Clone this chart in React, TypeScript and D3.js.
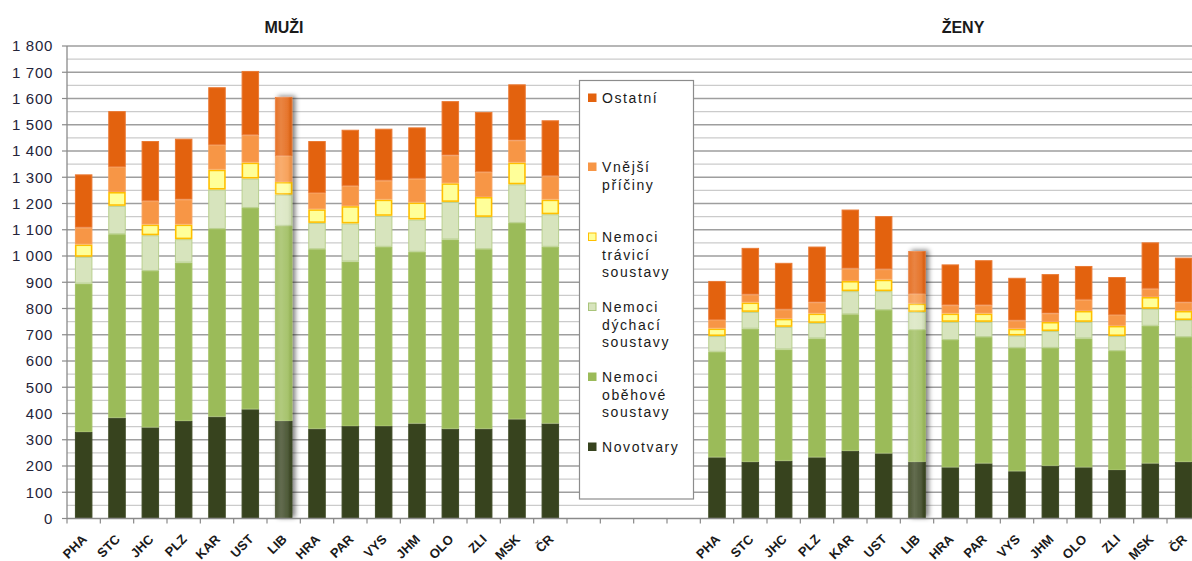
import React from 'react';
import * as d3 from 'd3';

// Regions (kraje) and the Czech Republic total
const regions = ['PHA', 'STC', 'JHC', 'PLZ', 'KAR', 'UST', 'LIB', 'HRA', 'PAR', 'VYS', 'JHM', 'OLO', 'ZLI', 'MSK', 'ČR'];

// Cause-of-death groups, bottom to top of each stack
const seriesKeys = ['novotvary', 'obehove', 'dychaci', 'travici', 'vnejsi', 'ostatni'];

// Men – standardized death rates per cause group
const menNovotvary = [330, 384, 347, 372, 388, 416, 372, 342, 352, 352, 362, 342, 342, 378, 362];
const menObehove = [565, 699, 596, 603, 715, 767, 743, 684, 627, 683, 654, 721, 684, 748, 673];
const menDychaci = [102, 108, 136, 89, 150, 112, 119, 100, 145, 118, 123, 143, 123, 147, 124];
const menTravici = [47, 53, 41, 56, 76, 61, 48, 52, 66, 62, 65, 71, 76, 83, 56];
const menVnejsi = [64, 95, 89, 95, 94, 104, 99, 62, 77, 72, 90, 106, 94, 84, 89];
const menOstatni = [203, 213, 229, 232, 220, 245, 225, 198, 214, 198, 196, 207, 230, 214, 213];

// Women
const womenNovotvary = [233, 216, 220, 233, 258, 248, 216, 195, 210, 180, 201, 195, 185, 210, 216];
const womenObehove = [402, 507, 424, 453, 520, 546, 502, 485, 481, 470, 449, 491, 453, 524, 475];
const womenDychaci = [60, 64, 86, 59, 88, 72, 69, 69, 58, 47, 64, 63, 57, 65, 65];
const womenTravici = [29, 36, 31, 36, 39, 44, 32, 32, 32, 26, 35, 42, 39, 45, 35];
const womenVnejsi = [32, 30, 35, 42, 47, 39, 36, 31, 31, 31, 32, 42, 41, 31, 32];
const womenOstatni = [149, 178, 178, 213, 225, 203, 164, 156, 172, 163, 150, 129, 145, 177, 171];

const yTicks = [0, 100, 200, 300, 400, 500, 600, 700, 800, 900, 1000, 1100, 1200, 1300, 1400, 1500, 1600, 1700, 1800];

// Legend entries, top to bottom, split into lines
const legendLabels = [
  ['Ostatní'],
  ['Vnější', 'příčiny'],
  ['Nemoci', 'trávicí', 'soustavy'],
  ['Nemoci', 'dýchací', 'soustavy'],
  ['Nemoci', 'oběhové', 'soustavy'],
  ['Novotvary'],
];
const legendKeys = ['ostatni', 'vnejsi', 'travici', 'dychaci', 'obehove', 'novotvary'];

const fills: Record<string, string> = {
  novotvary: '#37431e',
  obehove: '#9bbb59',
  dychaci: '#d7e4bd',
  travici: '#ffff99',
  vnejsi: '#f79646',
  ostatni: '#e3620e',
};
const strokes: Record<string, string> = {
  novotvary: '#3e4a25',
  obehove: '#a3c163',
  dychaci: '#b9d08f',
  travici: '#ffc000',
  vnejsi: '#f8a05a',
  ostatni: '#ea7a34',
};

const highlighted = 'LIB';

export default function App() {
  const width = 1192;
  const height = 561;
  const left = 67;
  const bottom = 518.5;
  const top = 46;
  const step = 100 / 3;
  const gapSlots = 4;

  const domain = [
    ...regions.map((r) => 'M:' + r),
    ...d3.range(gapSlots).map((i) => 'gap' + i),
    ...regions.map((r) => 'Z:' + r),
  ];
  const x = d3
    .scaleBand<string>()
    .domain(domain)
    .range([left, left + domain.length * step])
    .paddingInner(0.475)
    .paddingOuter(0.2375);
  const y = d3.scaleLinear().domain([0, 1800]).range([bottom, top]);

  const menSeries = [menNovotvary, menObehove, menDychaci, menTravici, menVnejsi, menOstatni];
  const womenSeries = [womenNovotvary, womenObehove, womenDychaci, womenTravici, womenVnejsi, womenOstatni];

  type Row = { key: string; region: string; [k: string]: number | string };
  const rows: Row[] = [];
  regions.forEach((r, i) => {
    const row: Row = { key: 'M:' + r, region: r };
    seriesKeys.forEach((k, j) => (row[k] = menSeries[j][i]));
    rows.push(row);
  });
  regions.forEach((r, i) => {
    const row: Row = { key: 'Z:' + r, region: r };
    seriesKeys.forEach((k, j) => (row[k] = womenSeries[j][i]));
    rows.push(row);
  });

  const stacked = d3.stack<Row>().keys(seriesKeys).value((d, k) => d[k] as number)(rows);

  const fmt = (v: number) => d3.format(',')(v).replace(/,/g, ' ');

  const gridMajor = yTicks;
  const gridMinor = yTicks.slice(0, -1).map((v) => v + 50);
  const right = width + 20;

  const bw = x.bandwidth();

  const renderBar = (row: Row, idx: number) => {
    const bx = x(row.key)!;
    const segs = stacked.map((layer) => {
      const d = layer[idx];
      const k = layer.key;
      const y0 = y(d[0]);
      const y1 = y(d[1]);
      const sw = k === 'travici' ? 1.6 : 1;
      return (
        <rect
          key={k}
          x={bx + sw / 2}
          y={y1 + sw / 2}
          width={bw - sw}
          height={Math.max(0, y0 - y1 - sw)}
          fill={fills[k]}
          stroke={strokes[k]}
          strokeWidth={sw}
        />
      );
    });
    const isHl = row.region === highlighted;
    const total = stacked[stacked.length - 1][idx][1];
    return (
      <g key={row.key} filter={isHl ? 'url(#hlShadow)' : undefined}>
        {segs}
        {isHl && (
          <rect x={bx} y={y(total)} width={bw} height={bottom - y(total)} fill="url(#hlSheen)" rx={1.5} />
        )}
      </g>
    );
  };

  const legendX = 579.5;
  const legendY = 80.5;
  const legendW = 114;
  const legendH = 418.5;
  const legendItemY = [98, 167, 237, 307, 377, 447];
  const lineH = 17.7;

  // category labels run up-right at 45° along short guide paths
  const c45 = Math.SQRT1_2;
  const labelLen = 60;
  const labelBase = 540;
  const labelPath = (key: string) => {
    const ex = x(key)! + bw / 2 + 4;
    return `M${ex - labelLen * c45},${labelBase + labelLen * c45}L${ex},${labelBase}`;
  };

  return (
    <svg
      width={width}
      height={height}
      style={{ position: 'absolute', left: 0, top: 0, background: '#fff' }}
      fontFamily="Arial, 'Liberation Sans', sans-serif"
    >
      <defs>
        <filter id="hlShadow" x="-60%" y="-10%" width="220%" height="120%">
          <feGaussianBlur in="SourceAlpha" stdDeviation="2.8" />
          <feOffset dx="3" dy="-1" result="off" />
          <feComponentTransfer>
            <feFuncA type="linear" slope="0.5" />
          </feComponentTransfer>
          <feMerge>
            <feMergeNode />
            <feMergeNode in="SourceGraphic" />
          </feMerge>
        </filter>
        <linearGradient id="hlSheen" x1="0" x2="1" y1="0" y2="0">
          <stop offset="0" stopColor="#fff" stopOpacity={0.1} />
          <stop offset="0.35" stopColor="#fff" stopOpacity={0.22} />
          <stop offset="0.75" stopColor="#fff" stopOpacity={0.12} />
          <stop offset="1" stopColor="#000" stopOpacity={0.05} />
        </linearGradient>
        {rows.map((row, i) => (
          <path key={'lp' + i} id={'lp' + i} d={labelPath(row.key)} />
        ))}
      </defs>

      {/* horizontal gridlines */}
      {gridMinor.map((v) => (
        <line key={'mn' + v} x1={left} x2={right} y1={y(v)} y2={y(v)} stroke="#cbcbcb" strokeWidth={1.3} />
      ))}
      {gridMajor.slice(1).map((v) => (
        <line key={'mj' + v} x1={left} x2={right} y1={y(v)} y2={y(v)} stroke="#9e9e9e" strokeWidth={1.3} />
      ))}

      {/* bars */}
      {rows.map((row, i) => renderBar(row, i))}

      {/* category axis */}
      <line x1={left} x2={right} y1={bottom} y2={bottom} stroke="#8a8a8a" strokeWidth={1.3} />
      {d3.range(domain.length + 1).map((i) => (
        <line
          key={'xt' + i}
          x1={left + i * step}
          x2={left + i * step}
          y1={bottom}
          y2={bottom + 5}
          stroke="#8a8a8a"
          strokeWidth={1.2}
        />
      ))}
      {rows.map((row, i) => (
        <text key={'xl' + row.key} fontSize={13} fontWeight="bold" fill="#1a1a1a">
          <textPath href={'#lp' + i} startOffset="100%" textAnchor="end">
            {row.region}
          </textPath>
        </text>
      ))}

      {/* value axis */}
      <line x1={left} x2={left} y1={top} y2={bottom} stroke="#8a8a8a" strokeWidth={1.3} />
      {yTicks.map((v) => (
        <g key={'yt' + v}>
          <line x1={left - 5} x2={left} y1={y(v)} y2={y(v)} stroke="#8a8a8a" strokeWidth={1.2} />
          <text
            x={53}
            y={y(v)}
            dy="0.36em"
            textAnchor="end"
            fontSize={15}
            letterSpacing={0.7}
            fill="#24243a"
          >
            {fmt(v)}
          </text>
        </g>
      ))}

      {/* panel titles */}
      <text x={284} y={33} textAnchor="middle" fontSize={16} fontWeight="bold" fill="#1a1a1a">
        MUŽI
      </text>
      <text x={963} y={33} textAnchor="middle" fontSize={16} fontWeight="bold" fill="#1a1a1a">
        ŽENY
      </text>

      {/* legend */}
      <rect x={legendX} y={legendY} width={legendW} height={legendH} fill="#fff" stroke="#8c8c8c" strokeWidth={1.2} />
      {legendKeys.map((k, i) => {
        const yy = legendItemY[i];
        return (
          <g key={'lg' + k}>
            <rect
              x={588.5}
              y={yy - 4}
              width={7.5}
              height={7.5}
              fill={fills[k]}
              stroke={k === 'travici' ? strokes[k] : k === 'dychaci' ? '#a9c47a' : fills[k]}
              strokeWidth={1}
            />
            {legendLabels[i].map((ln, j) => (
              <text
                key={j}
                x={602}
                y={yy + j * lineH}
                dy="0.36em"
                fontSize={14}
                letterSpacing={1.6}
                fill="#1a1a1a"
              >
                {ln}
              </text>
            ))}
          </g>
        );
      })}
    </svg>
  );
}
